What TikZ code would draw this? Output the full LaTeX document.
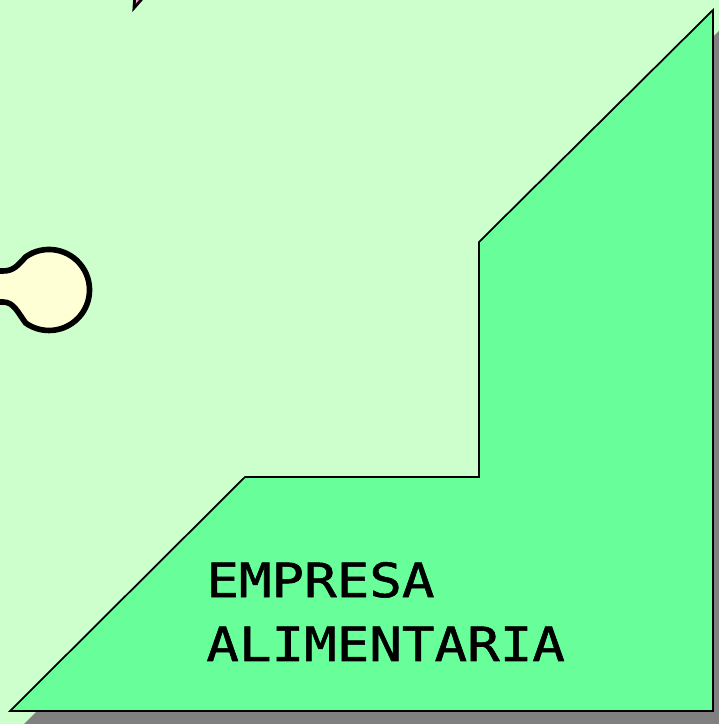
\documentclass[tikz,border=0pt]{standalone}
\usepackage{fontspec}
\newfontfamily\stairfont[FakeStretch=1.15,FakeBold=1.2]{DejaVu Sans Mono}
\usetikzlibrary{positioning}
\definecolor{bgGreen}{RGB}{204,255,204}
\definecolor{stairGreen}{RGB}{104,255,155}
\definecolor{bulbYellow}{RGB}{255,255,214}
\definecolor{tipPink}{RGB}{255,160,215}

\begin{document}
\begin{tikzpicture}[x=0.02cm,y=0.02cm,
			stairs/.style={draw=black,fill=stairGreen,line width=1pt,line join=miter},
			stairshadow/.style={fill=black!50,draw=none},
			bulb/.style={draw=black,fill=bulbYellow,line width=3.2pt},
			tip/.style={draw=black,fill=tipPink,line width=1.6pt},
			title/.style={font=\stairfont\fontsize{26.8}{36.4}\selectfont,align=left,inner sep=0pt}
		]
		\useasboundingbox (0,0) rectangle (719,724);
		\clip (0,0) rectangle (719,724);
		\fill[bgGreen] (0,0) rectangle (719,724);

		\coordinate (s1) at (10,13);
		\coordinate (s2) at (245,247);
		\coordinate (s3) at (479,247);
		\coordinate (s4) at (479,482);
		\coordinate (s5) at (713,714);
		\coordinate (s6) at (713,13);

		% shadow first, then the stairs on top
		\fill[stairshadow] ([shift={(14,-13)}]s1) -- ([shift={(14,-13)}]s2) -- ([shift={(14,-13)}]s3)
			-- ([shift={(14,-13)}]s4) -- ([shift={(14,-13)}]s5) -- ([shift={(14,-13)}]s6) -- cycle;
		\draw[stairs] (s1) -- (s2) -- (s3) -- (s4) -- (s5) -- (s6) -- cycle;

		\draw[bulb] (-10,453) -- (3,453) .. controls (14,453) and (18,459) .. (25.8,467.2)
			arc[start angle=125,end angle=-125,radius=40.5]
			.. controls (18,411) and (14,422) .. (3,422) -- (-10,422) -- cycle;

		\draw[tip] (135.5,740) -- (134,716) -- (155,740);

		\node[title,anchor=base west] (name) at (206,63) {EMPRESA\\ALIMENTARIA};

	\end{tikzpicture}
\end{document}
